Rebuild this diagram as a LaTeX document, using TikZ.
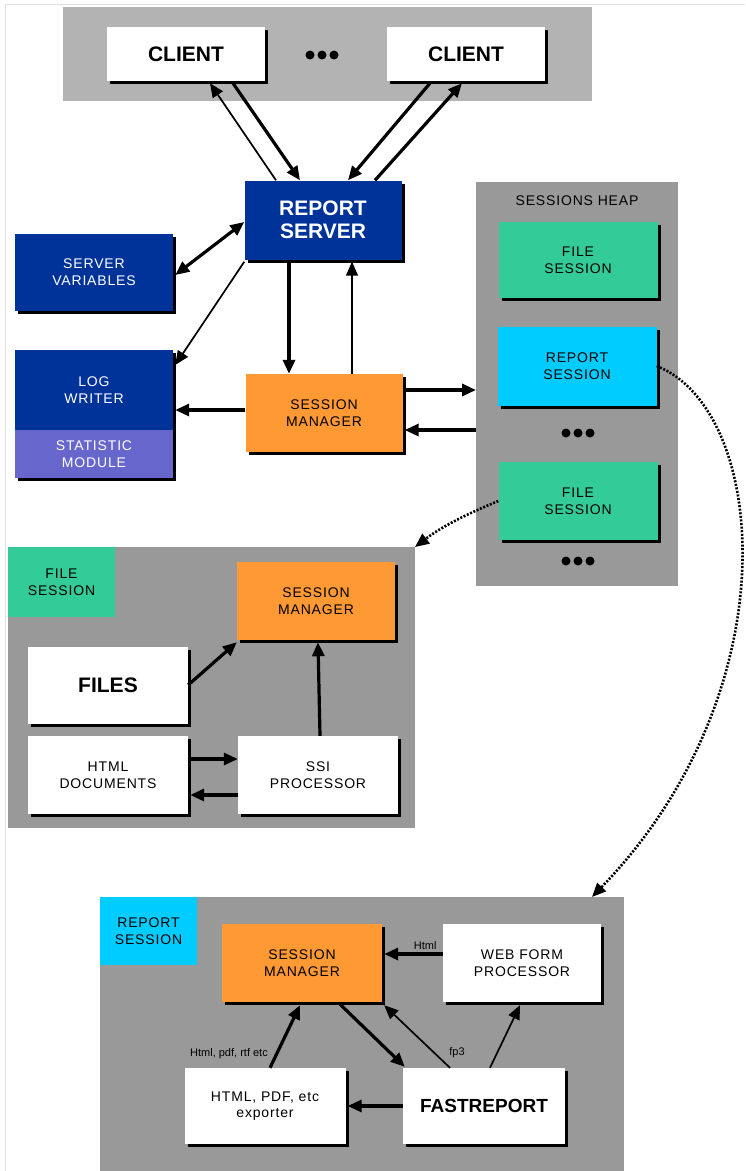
\documentclass[tikz,border=0pt]{standalone}
\usepackage{fontspec}
\setmainfont{Liberation Sans}
\newfontfamily\lbl[LetterSpace=6]{Liberation Sans}
\usetikzlibrary{arrows.meta,shadows,calc}
\definecolor{dkblue}{HTML}{003399}
\definecolor{orng}{HTML}{FF9933}
\definecolor{grn}{HTML}{33CC99}
\definecolor{cyn}{HTML}{00CCFF}
\definecolor{purp}{HTML}{6666CC}
\definecolor{panel}{HTML}{999999}
\definecolor{toppanel}{HTML}{B3B3B3}
\tikzset{
  shad/.style={drop shadow={shadow xshift=3pt,shadow yshift=-3pt,fill=black,opacity=1}},
  box/.style={shad,inner sep=0pt,align=center,font=\lbl\fontsize{14}{17}\selectfont},
  bigbox/.style={shad,inner sep=0pt,align=center,font=\bfseries\fontsize{21}{25}\selectfont},
  lab/.style={inner sep=0pt,align=center,font=\lbl\fontsize{14}{17}\selectfont},
  tip/.style={-{Triangle[length=14pt,width=12pt]}},
  tipb/.style={{Triangle[length=14pt,width=12pt]}-{Triangle[length=14pt,width=12pt]}},
  thick2/.style={line width=3.2pt},
  thin1/.style={line width=1.7pt},
  dots/.style={line width=2.6pt,dash pattern=on 2pt off 1.6pt},
  small/.style={inner sep=0pt,font=\fontsize{11}{13}\selectfont}
}
\begin{document}
\begin{tikzpicture}[x=1pt,y=-1pt]
\useasboundingbox (0,0) rectangle (745,1171);
\fill[white] (0,0) rectangle (745,1171);
\draw[black!12,line width=1pt] (5,1171) -- (5,4) -- (745,4);
% top panel
\fill[toppanel] (63,7) rectangle (592,101);
\node[bigbox,fill=white,minimum width=158pt,minimum height=54pt] (c1) at (186,54) {CLIENT};
\node[bigbox,fill=white,minimum width=158pt,minimum height=54pt] (c2) at (466,54) {CLIENT};
\foreach \x in {310,322,334} \fill (\x,55) circle (4.5);
% report server
\node[bigbox,fill=dkblue,text=white,minimum width=157pt,minimum height=79pt] (rs) at (323,220) {REPORT\\[-2pt]SERVER};
\node[box,fill=dkblue,text=white,minimum width=158pt,minimum height=77pt] (sv) at (94,272) {SERVER\\VARIABLES};
\node[box,fill=dkblue,text=white,minimum width=158pt,minimum height=80pt] (lw) at (94,390) {LOG\\WRITER};
\node[box,fill=purp,text=white,minimum width=158pt,minimum height=48pt] (st) at (94,454) {STATISTIC\\MODULE};
\node[box,fill=orng,minimum width=157pt,minimum height=78pt] (sm) at (324,413) {SESSION\\MANAGER};
% sessions heap
\fill[panel] (476,182) rectangle (678,586);
\coordinate (heapA) at (476,390);
\coordinate (heapB) at (476,430);
\node[lab] (heapt) at (577,201) {SESSIONS HEAP};
\node[box,fill=grn,minimum width=159pt,minimum height=76pt] (fs1) at (578,260) {FILE\\SESSION};
\node[box,fill=cyn,minimum width=159pt,minimum height=79pt] (rss) at (577,366) {REPORT\\SESSION};
\foreach \x in {566,578,590} \fill (\x,433) circle (4.5);
\node[box,fill=grn,minimum width=159pt,minimum height=78pt] (fs2) at (578,501) {FILE\\SESSION};
\foreach \x in {566,578,590} \fill (\x,561) circle (4.5);
% file session panel
\fill[panel] (8,547) rectangle (415,828);
\coordinate (fpne) at (415,547);
\node[lab,fill=grn,minimum width=107pt,minimum height=70pt] (fl) at (61.5,582) {FILE\\SESSION};
\node[box,fill=orng,minimum width=158pt,minimum height=78pt] (fsm) at (316,601) {SESSION\\MANAGER};
\node[bigbox,fill=white,minimum width=160pt,minimum height=77pt] (files) at (108,685) {FILES};
\node[box,fill=white,minimum width=160pt,minimum height=78pt] (html) at (108,775) {HTML\\DOCUMENTS};
\node[box,fill=white,minimum width=160pt,minimum height=78pt] (ssi) at (318,775) {SSI\\PROCESSOR};
% report session panel
\fill[panel] (100,897) rectangle (624,1171);
\coordinate (rpn) at (592,897);
\node[lab,fill=cyn,minimum width=97pt,minimum height=68pt] (rl) at (148.5,931) {REPORT\\SESSION};
\node[box,fill=orng,minimum width=160pt,minimum height=78pt] (rsm) at (302,963) {SESSION\\MANAGER};
\node[box,fill=white,minimum width=158pt,minimum height=78pt] (wfp) at (522,963) {WEB FORM\\PROCESSOR};
\node[box,fill=white,minimum width=161pt,minimum height=76pt,font=\lbl\fontsize{14}{16}\selectfont] (exp) at (265,1106) {HTML, PDF, etc\\exporter};
\node[bigbox,fill=white,minimum width=162pt,minimum height=76pt,font=\bfseries\fontsize{19}{23}\selectfont] (fr) at (484,1106) {FASTREPORT};
% connectors top
\draw[thick2,tip] ($(c1.south)+(47,2)$) -- ($(rs.north)+(-23,0)$);
\draw[thin1,tip] ($(rs.north)+(-47,0)$) -- ($(c1.south)+(24,2)$);
\draw[thick2,tip] ($(c2.south)+(-36,2)$) -- ($(rs.north)+(25,0)$);
\draw[thick2,tip] ($(rs.north)+(52,0)$) -- ($(c2.south)+(-4,2)$);
\draw[thick2,tipb] ($(rs.west)+(0,2)$) -- ($(sv.east)+(2,3)$);
\draw[thin1,tip] ($(rs.south west)+(0,2)$) -- ($(lw.east)+(2,-25)$);
\draw[thick2,tip] ($(rs.south)+(-34,0)$) -- ($(sm.north)+(-35,0)$);
\draw[thin1,tip] ($(sm.north)+(28,0)$) -- ($(rs.south)+(29,2)$);
\draw[thick2,tip] ($(sm.west)+(0,-3)$) -- ($(lw.east)+(2,20)$);
\draw[thick2,tip] ($(sm.east)+(0,-23)$) -- (heapA);
\draw[thick2,tip] (heapB) -- ($(sm.east)+(2,17)$);
% dotted links
\draw[dots,tip] (fs2.west) .. controls (462,516) and (440,528) .. (fpne);
\draw[dots,tip] (rss.east) .. controls (768,410) and (792,690) .. (rpn);
% file session panel links
\draw[thick2,tip] (files.east) -- ($(fsm.south west)+(0,2)$);
\draw[thick2,tip] ($(ssi.north)+(2,0)$) -- ($(fsm.south)+(2,2)$);
\draw[thick2,tip] ($(html.east)+(0,-16)$) -- ($(ssi.west)+(0,-16)$);
\draw[thick2,tip] ($(ssi.west)+(0,20)$) -- ($(html.east)+(2,20)$);
% report session panel links
\draw[thick2,tip] ($(wfp.west)+(0,-9)$) -- ($(rsm.east)+(2,-9)$) node[small,pos=0.3,above=3pt] {Html};
\draw[thick2,tip] ($(rsm.south)+(38,2)$) -- ($(fr.north west)+(2,-1)$);
\draw[thin1,tip] ($(fr.north)+(-34,0)$) -- ($(rsm.south east)+(2,3)$);
\draw[thin1,tip] ($(fr.north)+(6,0)$) -- ($(wfp.south)+(-2,3)$);
\node[small] (fp3) at (457,1053) {fp3};
\draw[thick2,tip] ($(exp.north)+(5,0)$) -- ($(rsm.south)+(-2,3)$);
\node[small,anchor=east] (hpr) at (268,1054) {Html, pdf, rtf etc};
\draw[thick2,tip] (fr.west) -- ($(exp.east)+(2,0)$);
\end{tikzpicture}
\end{document}
